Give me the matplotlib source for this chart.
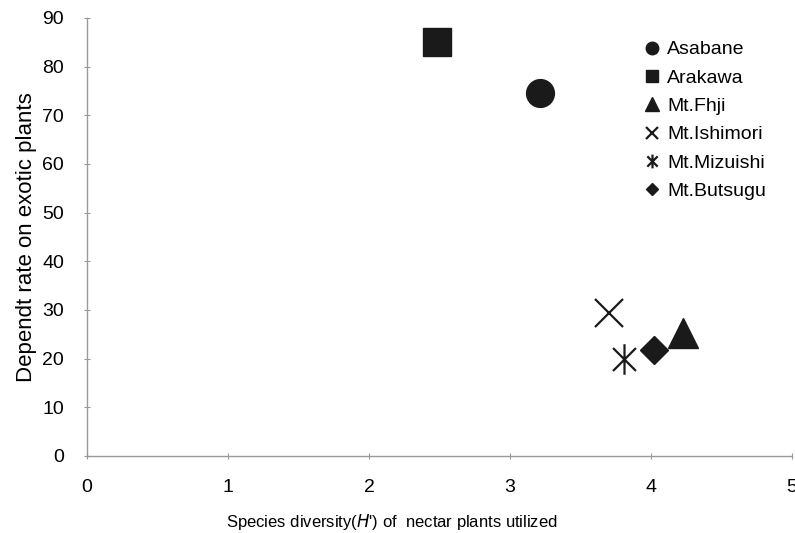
import matplotlib
matplotlib.use("Agg")
import matplotlib.pyplot as plt
from matplotlib.path import Path

sites = ["Asabane", "Arakawa", "Mt.Fhji", "Mt.Ishimori", "Mt.Mizuishi", "Mt.Butsugu"]
diversity = [3.21, 2.48, 4.23, 3.70, 3.81, 4.02]
dependence = [74.6, 85.0, 25.3, 29.4, 20.0, 21.8]
x_ticks = [0, 1, 2, 3, 4, 5]
y_ticks = [0, 10, 20, 30, 40, 50, 60, 70, 80, 90]

plt.rcParams['font.family'] = ['Liberation Sans', 'DejaVu Sans']

asterisk = Path([(0, -1), (0, 1), (-0.75, -0.75), (0.75, 0.75), (-0.75, 0.75), (0.75, -0.75)],
                [Path.MOVETO, Path.LINETO, Path.MOVETO, Path.LINETO, Path.MOVETO, Path.LINETO])

styles = [
    dict(marker='o', ms=20, filled=True),
    dict(marker='s', ms=20, filled=True),
    dict(marker='^', ms=21, filled=True),
    dict(marker='x', ms=20, filled=False),
    dict(marker=asterisk, ms=22, filled=False),
    dict(marker='D', ms=14, filled=True),
]

fig = plt.figure(figsize=(7.95, 5.33), dpi=100)
ax = fig.add_axes([87/795, 1-456/533, 705/795, 438/533])

for name, xv, yv, st in zip(sites, diversity, dependence, styles):
    if st['filled']:
        ax.plot([xv], [yv], linestyle='none', marker=st['marker'], ms=st['ms'],
                color='#1a1a1a', mec='#1a1a1a', label=name, clip_on=False)
    else:
        ax.plot([xv], [yv], linestyle='none', marker=st['marker'], ms=st['ms'],
                color='#1a1a1a', mew=1.6, label=name, clip_on=False)

ax.set_xlim(0, 5)
ax.set_ylim(0, 90)
ax.set_xticks(x_ticks)
ax.set_yticks(y_ticks)
ax.set_xticklabels([str(t) for t in x_ticks], fontsize=14)
ax.set_yticklabels([str(t) for t in y_ticks], fontsize=14)
for s in ['top', 'right']:
    ax.spines[s].set_visible(False)
for s in ['left', 'bottom']:
    ax.spines[s].set_color('#999999')
    ax.spines[s].set_linewidth(1.0)
ax.tick_params(axis='both', direction='inout', length=5, color='#999999', width=0.8)
ax.tick_params(axis='x', pad=14)
ax.tick_params(axis='y', pad=14)

ax.set_xlabel("Species diversity($\\mathit{H}$') of  nectar plants utilized", fontsize=12)
ax.xaxis.set_label_coords((392 - 87) / 705, -0.127)
ax.set_ylabel("Dependt rate on exotic plants", fontsize=16, labelpad=4)

leg = ax.legend(loc='upper left', bbox_to_anchor=(636/795, 1-33/533), bbox_transform=fig.transFigure,
                frameon=False, fontsize=14, markerscale=0.45, handlelength=0.8, handletextpad=0.4,
                labelspacing=0.55, borderaxespad=0)

fig.savefig("out.png", dpi=100)
